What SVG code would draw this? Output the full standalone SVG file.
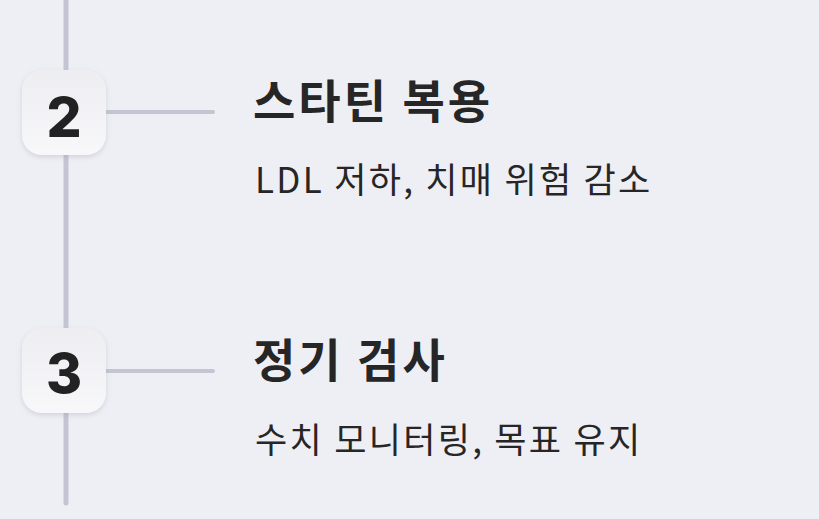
<svg xmlns="http://www.w3.org/2000/svg" width="819" height="519" viewBox="0 0 819 519">
<defs>
<linearGradient id="g" x1="0" y1="0" x2="0" y2="1"><stop offset="0" stop-color="#EDEDF2"/><stop offset="1" stop-color="#F8F8FA"/></linearGradient>
<filter id="sh" x="-30%" y="-30%" width="160%" height="160%"><feDropShadow dx="0" dy="2" stdDeviation="2.5" flood-color="#9A9BB0" flood-opacity="0.35"/></filter>
</defs>
<style>
.ln{stroke:#C4C5D3;stroke-width:5;stroke-linecap:round;fill:none}
.br{stroke:#C4C5D3;stroke-width:4;stroke-linecap:round;fill:none}
.box{fill:url(#g);filter:url(#sh)}
.num{font-family:Inter,"Noto Sans",sans-serif;font-weight:800;font-size:55px;fill:#222;text-anchor:middle}
.t{font-family:"Noto Sans CJK KR",sans-serif;font-weight:700;font-size:46px;letter-spacing:3px;fill:#262626}
.s{font-family:"Noto Sans CJK KR",sans-serif;font-weight:400;font-size:35px;letter-spacing:2.3px;fill:#262626}
</style>
<rect width="819" height="519" fill="#EEEFF4"/>
<g id="connectors">
<line class="ln" x1="66" y1="-5" x2="66" y2="503"/>
<line class="br" x1="106" y1="112" x2="213" y2="112"/>
<line class="br" x1="106" y1="371" x2="213" y2="371"/>
</g>
<g id="step2">
<rect class="box" x="22" y="70" width="84" height="85" rx="20"/>
<text class="num" x="64" y="137">2</text>
<text class="t" x="253" y="118">스타틴 복용</text>
<text class="s" x="255" y="193">LDL 저하, 치매 위험 감소</text>
</g>
<g id="step3">
<rect class="box" x="22" y="328" width="84" height="85" rx="20"/>
<text class="num" x="64" y="393">3</text>
<text class="t" x="253" y="377">정기 검사</text>
<text class="s" x="255" y="453">수치 모니터링, 목표 유지</text>
</g>
</svg>
